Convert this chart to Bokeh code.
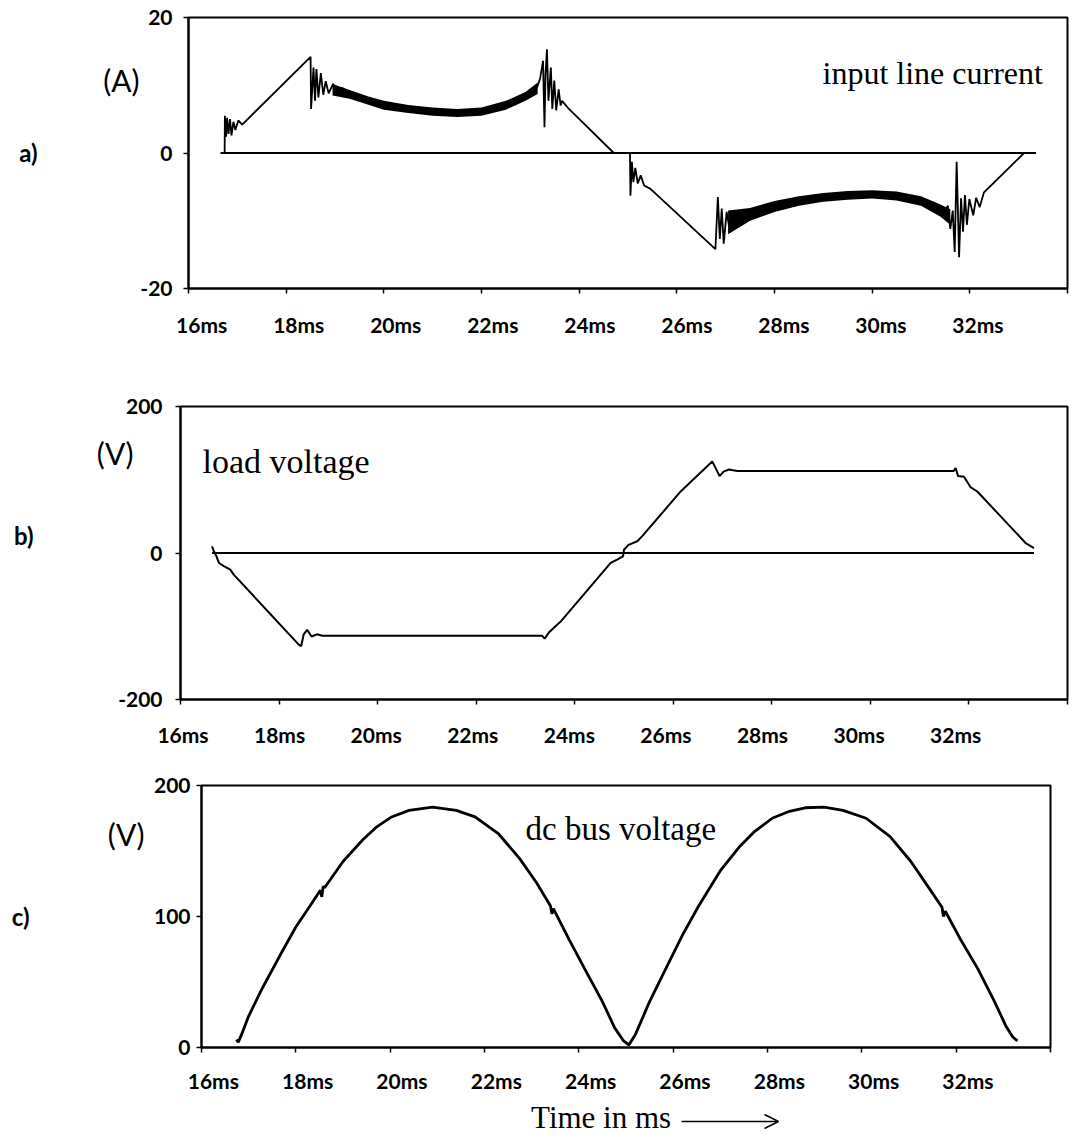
from bokeh.plotting import figure
from bokeh.layouts import column
from bokeh.models import (Range1d, FixedTicker, CustomJSTickFormatter, Label, Arrow, OpenHead,
                          LinearAxis)
from bokeh.embed import file_html
from bokeh.resources import INLINE

# ---------------- data ----------------
tick_values = [16, 18, 20, 22, 24, 26, 28, 30, 32, 34]
tick_labels = ["16ms", "18ms", "20ms", "22ms", "24ms", "26ms", "28ms", "30ms", "32ms"]

# a) input line current (A)
cur_t = [16.66, 16.74, 16.745, 16.77, 16.79, 16.82, 16.85, 16.88, 16.92, 16.96, 17.02, 17.10,
         18.50, 18.51, 18.56, 18.59, 18.62, 18.66, 18.71, 18.76, 18.81, 18.87, 18.96, 19.05, 19.15,
         19.32, 19.66, 20.0, 20.34, 20.61, 21.30, 21.98, 22.53, 22.93, 23.14,
         23.20, 23.26, 23.29, 23.31, 23.34, 23.37, 23.42, 23.45, 23.49, 23.53, 23.58, 23.62, 23.65, 23.79,
         24.71, 25.04,
         25.05, 25.08, 25.11, 25.15, 25.20, 25.26, 25.33, 25.46,
         26.79, 26.84, 26.88, 26.92, 26.96, 27.02, 27.09, 27.18, 27.30, 27.51, 28.19, 28.87, 29.56,
         29.9, 30.58, 31.13, 31.47,
         31.55, 31.60, 31.65, 31.69, 31.73, 31.78, 31.82, 31.86, 31.90, 31.94, 31.99, 32.07, 32.13,
         32.20, 32.29,
         33.11, 33.35]
cur_i = [0, 0, 5.5, 2.4, 5.2, 2.8, 5.0, 2.6, 4.6, 3.4, 4.8, 4.2,
         14.2, 6.5, 12.6, 7.7, 12.4, 8.2, 11.8, 8.6, 10.6, 8.8, 10.2, 8.8, 9.6,
         8.7, 7.7, 7.0, 6.5, 6.5, 6.0, 6.2, 7.2, 8.5, 9.7,
         11.0, 13.6, 3.8, 11.5, 15.3, 7.7, 12.6, 6.5, 10.7, 6.3, 9.4, 7.0, 7.7, 6.5,
         0, 0,
         -6.3, -1.3, -4.3, -2.2, -4.5, -3.3, -4.8, -5.3,
         -14.2, -6.5, -12.7, -8.2, -13.4, -8.7, -11.7, -9.0, -10.6, -9.0, -7.5, -6.7, -6.3,
         -6.0, -6.5, -7.2, -8.7,
         -7.8, -11.2, -8.5, -14.6, -1.3, -15.4, -6.7, -11.6, -6.2, -10.6, -6.8, -9.2, -6.6,
         -8.0, -5.8,
         0, 0]
# ripple band (upper / lower envelope of the switching ripple)
band_pos_t = [18.95, 19.3, 19.7, 20.0, 20.5, 21.0, 21.5, 22.0, 22.5, 22.9, 23.15]
band_pos_hi = [10.2, 9.3, 8.3, 7.7, 7.1, 6.7, 6.5, 6.7, 7.7, 9.0, 10.4]
band_pos_lo = [8.5, 8.0, 7.1, 6.4, 5.9, 5.5, 5.3, 5.5, 6.4, 7.7, 8.7]
band_neg_t = [27.05, 27.5, 28.0, 28.5, 29.0, 29.5, 30.0, 30.5, 31.0, 31.4, 31.6]
band_neg_hi = [-8.5, -8.1, -7.1, -6.4, -5.9, -5.6, -5.5, -5.7, -6.4, -7.6, -8.3]
band_neg_lo = [-12.0, -10.0, -8.7, -7.8, -7.2, -6.9, -6.7, -7.0, -7.8, -9.4, -10.6]
zero_a_t = [16.66, 33.35]
zero_a_v = [0, 0]

# b) load voltage (V)
load_t = [16.64, 16.68, 16.73, 16.78, 16.88, 17.01, 17.08,
          18.40, 18.45, 18.50, 18.57, 18.66, 18.77, 18.88,
          23.34, 23.39, 23.47, 23.61, 23.71,
          24.73, 24.86, 24.98, 25.00, 25.09, 25.27, 25.37,
          26.15,
          26.79, 26.83, 26.94, 27.02, 27.13, 27.30,
          31.69, 31.73, 31.78, 31.90, 32.03, 32.17,
          33.15, 33.32]
load_v = [9, 2, -4.6, -13.6, -18, -22.7, -29.5,
          -125, -127, -111, -105, -114, -111, -113,
          -113, -117, -109, -100, -94,
          -13.6, -9, -4.6, 4.5, 11, 16, 23,
          84,
          125, 120, 105, 111, 114, 112,
          112, 116, 105, 104, 90, 84,
          13.6, 6.8]
zero_b_t = [16.64, 33.32]
zero_b_v = [0, 0]

# c) dc bus voltage (V)
dc_t = [16.74, 16.78, 16.85, 17.0, 17.3, 17.66, 18.0, 18.3,
        18.52, 18.55, 18.58, 18.61,
        19.0, 19.43, 19.7, 20.03, 20.4, 20.9, 21.4, 21.8, 22.3, 22.75, 23.1,
        23.40, 23.43, 23.46,
        23.8, 24.17, 24.5, 24.76, 24.95, 25.06, 25.2, 25.5, 25.8, 26.2, 26.54,
        27.0, 27.4, 27.73, 28.1, 28.44, 28.8, 29.2, 29.6, 30.09, 30.6, 31.04, 31.4,
        31.70, 31.73, 31.77,
        32.1, 32.46, 32.8, 33.06, 33.2, 33.3]
dc_v = [6, 4, 10, 24, 46, 70, 92, 108,
        120, 115, 123, 122,
        142, 159, 168, 176, 181, 183.5, 181, 176, 163, 144, 126,
        108, 102, 106,
        82, 57, 35, 15, 5, 2, 10, 35, 57, 86, 108,
        135, 153, 165, 175, 180, 183, 183.5, 181, 175, 161, 142, 123,
        107, 100, 104,
        82, 60, 36, 16, 8, 5]

# ---------------- layout helpers ----------------
W = 1075
SANS = "Lato"
SERIF = "Liberation Serif"


def make_panel(fig_top, fig_h, L, R, T, B, yr, yticks, label_pos, ystandoff, xstandoff):
    p = figure(width=W, height=fig_h, x_range=Range1d(16, 34), y_range=Range1d(*yr),
               output_backend="svg", toolbar_location=None, title=None,
               min_border_left=L, min_border_right=W - R,
               min_border_top=T - fig_top, min_border_bottom=fig_top + fig_h - B)
    p.frame_align = False
    p.xgrid.visible = False
    p.ygrid.visible = False
    p.outline_line_color = "black"
    p.outline_line_width = 2
    p.background_fill_color = "white"
    p.border_fill_color = "white"

    xa = p.xaxis[0]
    xa.ticker = FixedTicker(ticks=label_pos, minor_ticks=tick_values)
    xa.formatter = CustomJSTickFormatter(args=dict(labels=tick_labels),
                                         code="return labels[index];")
    xa.axis_line_width = 2
    xa.axis_line_color = "black"
    xa.major_tick_out = 0
    xa.major_tick_in = 0
    xa.minor_tick_out = 5
    xa.minor_tick_in = 0
    xa.minor_tick_line_width = 1.5
    xa.minor_tick_line_color = "black"
    xa.major_label_text_font = SANS
    xa.major_label_text_font_style = "bold"
    xa.major_label_text_font_size = "21px"
    xa.major_label_text_color = "black"
    xa.major_label_standoff = xstandoff

    ya = p.yaxis[0]
    ya.ticker = FixedTicker(ticks=yticks, minor_ticks=[])
    ya.formatter = CustomJSTickFormatter(code="return tick.toFixed(0);")
    ya.axis_line_width = 2
    ya.axis_line_color = "black"
    ya.major_tick_out = 5
    ya.major_tick_in = 0
    ya.major_tick_line_width = 1.5
    ya.major_tick_line_color = "black"
    ya.minor_tick_out = 0
    ya.minor_tick_in = 0
    ya.major_label_text_font = SANS
    ya.major_label_text_font_style = "bold"
    ya.major_label_text_font_size = "21px"
    ya.major_label_text_color = "black"
    ya.major_label_standoff = ystandoff

    def to_data(px, py):
        x = 16 + (px - L) / (R - L) * 18.0
        y = yr[1] - (py - T) / (B - T) * (yr[1] - yr[0])
        return x, y

    def label(text, px, py, font, size):
        # serif annotation inside the frame, left aligned at px, baseline at py
        x, y = to_data(px, py)
        p.add_layout(Label(x=x, y=y, text=text, text_font=font, text_font_size=size,
                           text_align="left", text_baseline="alphabetic",
                           text_color="black"))

    def side_text(text, py, size, standoff, style="normal"):
        # text in the left margin: a one-tick axis stacked left of the y axis
        _, y = to_data(0, py)
        ax = LinearAxis(ticker=FixedTicker(ticks=[y], minor_ticks=[]),
                        formatter=CustomJSTickFormatter(args=dict(t=text), code="return t;"),
                        axis_line_color=None, major_tick_line_color=None,
                        minor_tick_line_color=None, major_tick_out=0, major_tick_in=0,
                        minor_tick_out=0, minor_tick_in=0, major_label_standoff=standoff,
                        major_label_text_font=SANS, major_label_text_font_size=size,
                        major_label_text_font_style=style, major_label_text_color="black")
        p.add_layout(ax, "left")

    return p, to_data, label, side_text


# ---------------- panel a ----------------
pa, to_a, label_a, side_a = make_panel(0, 360, 188, 1067, 17, 288, (-20, 20), [-20, 0, 20],
                                       [16.27 + k * 1.987 for k in range(9)], 11, 18)
pa.line(zero_a_t, zero_a_v, line_color="black", line_width=2)
pa.varea(x=band_pos_t, y1=band_pos_lo, y2=band_pos_hi, fill_color="black")
pa.varea(x=band_neg_t, y1=band_neg_lo, y2=band_neg_hi, fill_color="black")
pa.line(cur_t, cur_i, line_color="black", line_width=1.8)
label_a("input line current", 822, 72, SERIF, "32px")
side_a("(A)", 79, "30px", -2)
side_a("a)", 152, "24px", 63, "bold")

# ---------------- panel b ----------------
pb, to_b, label_b, side_b = make_panel(360, 400, 180, 1067, 406, 699, (-200, 200), [-200, 0, 200],
                                       [16.05 + k * 1.96 for k in range(9)], 13, 17)
pb.line(zero_b_t, zero_b_v, line_color="black", line_width=2)
pb.line(load_t, load_v, line_color="black", line_width=2)
label_b("load voltage", 202, 461, SERIF, "34px")
side_b("(V)", 452, "30px", -18)
side_b("b)", 535, "24px", 60, "bold")

# ---------------- panel c ----------------
STRIP_TOP = 1095
pc, to_c, label_c, side_c = make_panel(760, STRIP_TOP - 760, 201, 1050, 785, 1054, (0, 200),
                                       [0, 100, 200],
                                       [16.25 + k * 2.0 for k in range(9)], 6, 15)
pc.line(dc_t, dc_v, line_color="black", line_width=2.8)
label_c("dc bus voltage", 525, 830, SERIF, "33px")
side_c("(V)", 835, "30px", 6)
side_c("c)", 919, "24px", 75, "bold")

# ---------------- bottom strip: axis title with arrow ----------------
STRIP_FRAME_BOTTOM = 1130
pt = figure(width=W, height=1142 - STRIP_TOP, x_range=Range1d(0, W),
            y_range=Range1d(STRIP_FRAME_BOTTOM - STRIP_TOP, 0), title=None,
            output_backend="svg", toolbar_location=None, y_axis_type=None,
            min_border_left=0, min_border_right=0, min_border_top=0,
            min_border_bottom=1142 - STRIP_FRAME_BOTTOM)
pt.frame_align = False
pt.outline_line_color = None
pt.xgrid.visible = False
pt.ygrid.visible = False
title_ax = pt.xaxis[0]
title_ax.ticker = FixedTicker(ticks=[600.6], minor_ticks=[])
title_ax.formatter = CustomJSTickFormatter(code="return 'Time in ms';")
title_ax.axis_line_color = None
title_ax.major_tick_line_color = None
title_ax.minor_tick_line_color = None
title_ax.major_tick_out = 0
title_ax.major_tick_in = 0
title_ax.minor_tick_out = 0
title_ax.minor_tick_in = 0
title_ax.major_label_standoff = -31
title_ax.major_label_text_font = SERIF
title_ax.major_label_text_font_size = "31px"
title_ax.major_label_text_color = "black"
pt.add_layout(Arrow(end=OpenHead(size=14, line_width=1.6, line_color="black"),
                    x_start=681, y_start=1121 - STRIP_TOP, x_end=778, y_end=1121 - STRIP_TOP,
                    line_width=1.6, line_color="black"))

layout = column(pa, pb, pc, pt, spacing=0)
open("out.html", "w").write(file_html(layout, INLINE))
